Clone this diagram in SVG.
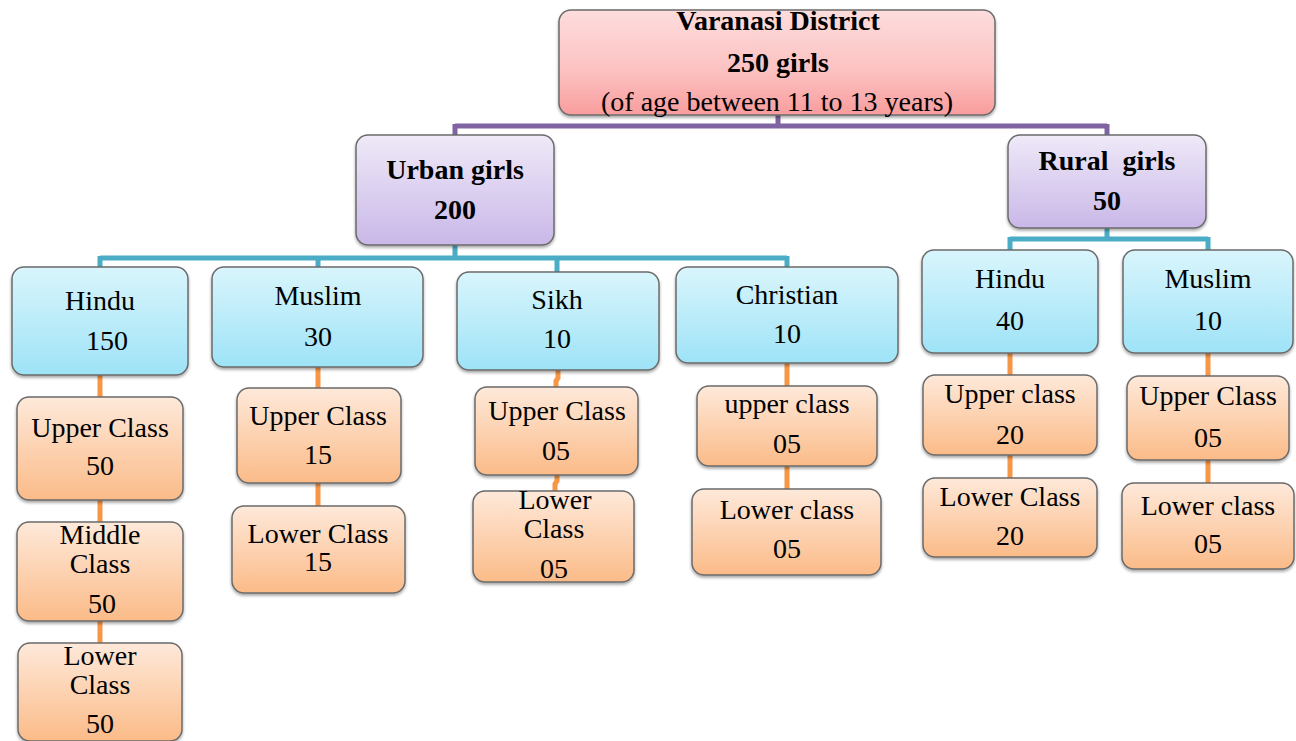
<svg xmlns="http://www.w3.org/2000/svg" width="1296" height="741" viewBox="0 0 1296 741">
<defs>
<linearGradient id="gPink" x1="0" y1="0" x2="0" y2="1"><stop offset="0" stop-color="#fddddd"/><stop offset="0.6" stop-color="#fcc0c0"/><stop offset="1" stop-color="#f99c9c"/></linearGradient>
<linearGradient id="gPurple" x1="0" y1="0" x2="0" y2="1"><stop offset="0" stop-color="#efe9f8"/><stop offset="1" stop-color="#c9b8e8"/></linearGradient>
<linearGradient id="gBlue" x1="0" y1="0" x2="0" y2="1"><stop offset="0" stop-color="#d9f5fc"/><stop offset="1" stop-color="#9ee3f7"/></linearGradient>
<linearGradient id="gOrange" x1="0" y1="0" x2="0" y2="1"><stop offset="0" stop-color="#fee9da"/><stop offset="1" stop-color="#fbbb88"/></linearGradient>
<filter id="sh" x="-10%" y="-10%" width="120%" height="130%"><feDropShadow dx="0" dy="2" stdDeviation="1.5" flood-color="#000" flood-opacity="0.35"/></filter>
</defs>
<style>
.box{stroke:#6b6b6b;stroke-width:1.5;filter:url(#sh)}
.pink{fill:url(#gPink)}
.purple{fill:url(#gPurple)}
.blue{fill:url(#gBlue)}
.orange{fill:url(#gOrange)}
text{font-family:"Liberation Serif","Times New Roman",serif;font-size:28px;fill:#000;text-anchor:middle}
.b{font-weight:bold}
.lp{fill:none;stroke:#8064a2;stroke-width:5}
.lt{fill:none;stroke:#4bacc6;stroke-width:5}
.lo{fill:none;stroke:#f79646;stroke-width:5}
</style>
<rect width="1296" height="741" fill="#fff"/>
<g id="connectors">
<path class="lp" d="M778 115 V126 M455 126 H1107 M455 124 V136 M1107 124 V136"/>
<path class="lt" d="M455 245 V258 M100 258 H787 M100 256 V268 M318 256 V268 M557 256 V273 M787 256 V268"/>
<path class="lt" d="M1107 228 V239 M1010 239 H1208 M1010 237 V251 M1208 237 V251"/>
<path class="lo" d="M100 375 V398 M100 500 V523 M100 621 V644"/>
<path class="lo" d="M318 367 V389 M318 483 V507"/>
<path class="lo" d="M558 370 V378 L556 381 V388 M557 475 V481 L555 484 V492"/>
<path class="lo" d="M787 363 V387 M787 466 V490"/>
<path class="lo" d="M1010 353 V376 M1010 455 V479"/>
<path class="lo" d="M1208 353 V377 M1208 460 V484"/>
</g>
<g id="varanasi"><rect class="box pink" x="559" y="10" width="436" height="105" rx="12"/>
<text class="b" x="778" y="30" font-size="29">Varanasi District</text>
<text class="b" x="778" y="72" font-size="29">250 girls</text>
<text x="777" y="111" font-size="29">(of age between 11 to 13 years)</text></g>
<g id="urban"><rect class="box purple" x="356" y="135" width="198" height="110" rx="12"/>
<text class="b" x="455" y="179">Urban girls</text>
<text class="b" x="455" y="219">200</text></g>
<g id="rural"><rect class="box purple" x="1008" y="135" width="198" height="93" rx="12"/>
<text class="b" x="1107" y="170">Rural&#160; girls</text>
<text class="b" x="1107" y="210">50</text></g>
<g id="u-hindu"><rect class="box blue" x="12" y="267" width="176" height="108" rx="12"/>
<text x="100" y="310">Hindu</text><text x="107" y="350">150</text></g>
<g id="u-muslim"><rect class="box blue" x="212" y="267" width="211" height="100" rx="12"/>
<text x="318" y="305">Muslim</text><text x="318" y="346">30</text></g>
<g id="u-sikh"><rect class="box blue" x="457" y="272" width="202" height="98" rx="12"/>
<text x="557" y="309">Sikh</text><text x="557" y="348">10</text></g>
<g id="u-christian"><rect class="box blue" x="676" y="267" width="222" height="96" rx="12"/>
<text x="787" y="304">Christian</text><text x="787" y="343">10</text></g>
<g id="r-hindu"><rect class="box blue" x="922" y="250" width="176" height="103" rx="12"/>
<text x="1010" y="288">Hindu</text><text x="1010" y="330">40</text></g>
<g id="r-muslim"><rect class="box blue" x="1123" y="250" width="170" height="103" rx="12"/>
<text x="1208" y="288">Muslim</text><text x="1208" y="330">10</text></g>
<g id="uh-upper"><rect class="box orange" x="17" y="397" width="166" height="103" rx="12"/>
<text x="100" y="437">Upper Class</text><text x="100" y="475">50</text></g>
<g id="uh-middle"><rect class="box orange" x="17" y="522" width="166" height="99" rx="12"/>
<text x="100" y="544">Middle</text><text x="100" y="573">Class</text><text x="102" y="613">50</text></g>
<g id="uh-lower"><rect class="box orange" x="18" y="643" width="164" height="98" rx="12"/>
<text x="100" y="665">Lower</text><text x="100" y="694">Class</text><text x="100" y="733">50</text></g>
<g id="um-upper"><rect class="box orange" x="237" y="388" width="164" height="95" rx="12"/>
<text x="318" y="425">Upper Class</text><text x="318" y="464">15</text></g>
<g id="um-lower"><rect class="box orange" x="232" y="506" width="173" height="87" rx="12"/>
<text x="318" y="543">Lower Class</text><text x="318" y="571">15</text></g>
<g id="us-upper"><rect class="box orange" x="475" y="387" width="163" height="88" rx="12"/>
<text x="557" y="420">Upper Class</text><text x="556" y="460">05</text></g>
<g id="us-lower"><rect class="box orange" x="473" y="491" width="161" height="91" rx="12"/>
<text x="555" y="509">Lower</text><text x="554" y="538">Class</text><text x="554" y="578">05</text></g>
<g id="uc-upper"><rect class="box orange" x="697" y="386" width="180" height="80" rx="12"/>
<text x="787" y="413">upper class</text><text x="787" y="453">05</text></g>
<g id="uc-lower"><rect class="box orange" x="692" y="489" width="189" height="86" rx="12"/>
<text x="787" y="519">Lower class</text><text x="787" y="558">05</text></g>
<g id="rh-upper"><rect class="box orange" x="923" y="375" width="174" height="80" rx="12"/>
<text x="1010" y="403">Upper class</text><text x="1010" y="444">20</text></g>
<g id="rh-lower"><rect class="box orange" x="923" y="478" width="174" height="79" rx="12"/>
<text x="1010" y="506">Lower Class</text><text x="1010" y="545">20</text></g>
<g id="rm-upper"><rect class="box orange" x="1127" y="376" width="162" height="84" rx="12"/>
<text x="1208" y="405">Upper Class</text><text x="1208" y="447">05</text></g>
<g id="rm-lower"><rect class="box orange" x="1122" y="483" width="172" height="86" rx="12"/>
<text x="1208" y="515">Lower class</text><text x="1208" y="553">05</text></g>
</svg>
